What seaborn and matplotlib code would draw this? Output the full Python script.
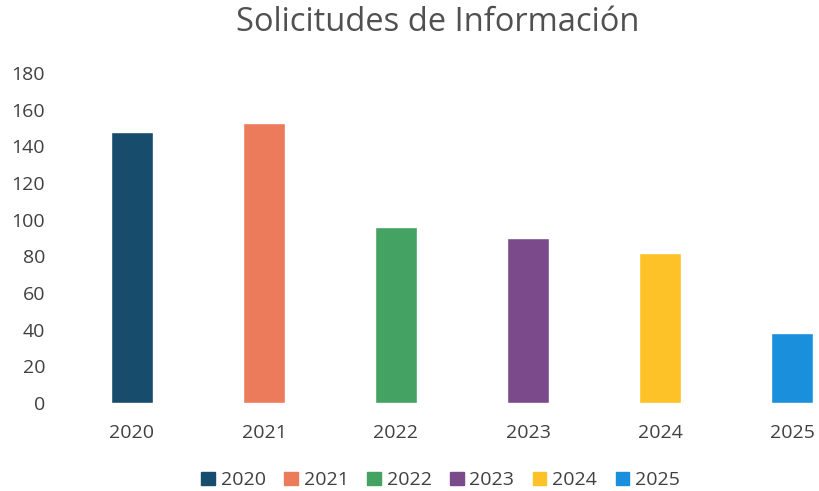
import pandas as pd
import matplotlib.pyplot as plt
import seaborn as sns

# datos
anios = ["2020", "2021", "2022", "2023", "2024", "2025"]
solicitudes = [148, 153, 96, 90, 82, 38]
colores = ["#184c6c", "#ec7b5b", "#44a262", "#7a4a8b", "#fcc227", "#1a90dc"]

df = pd.DataFrame({"anio": anios, "solicitudes": solicitudes})

sns.set_style("white")
plt.rcParams["font.family"] = ["Open Sans", "DejaVu Sans"]

fig = plt.figure(figsize=(8.19, 4.91), dpi=100)
ax = fig.add_axes([66 / 819, 88 / 491, 1 - 66 / 819, 330 / 491])

sns.barplot(data=df, x="anio", y="solicitudes", hue="anio", palette=colores,
            width=0.32, dodge=False, legend=True, ax=ax, saturation=1)

ax.set_ylim(0, 180)
ax.set_yticks(range(0, 181, 20))
ax.set_xlim(-0.5, 5.5 - 39 / 132)
ax.set_xlabel("")
ax.set_ylabel("")
sns.despine(left=True, bottom=True)
ax.tick_params(axis="both", length=0, labelsize=14, colors="#404040")
ax.tick_params(axis="x", pad=15)
ax.tick_params(axis="y", pad=15)

fig.text(0.534, 0.955, "Solicitudes de Información", ha="center", va="center",
         fontsize=23.5, color="#505050")

ax.legend_.remove()
handles = [plt.Rectangle((0, 0), 1, 1, color=c) for c in colores]
fig.legend(handles, anios, loc="center", bbox_to_anchor=(0.538, 0.022), ncol=6,
           frameon=False, fontsize=14, handlelength=0.7, handleheight=0.7,
           handletextpad=0.3, columnspacing=0.95, labelcolor="#404040")

fig.savefig("out.png", dpi=100)
